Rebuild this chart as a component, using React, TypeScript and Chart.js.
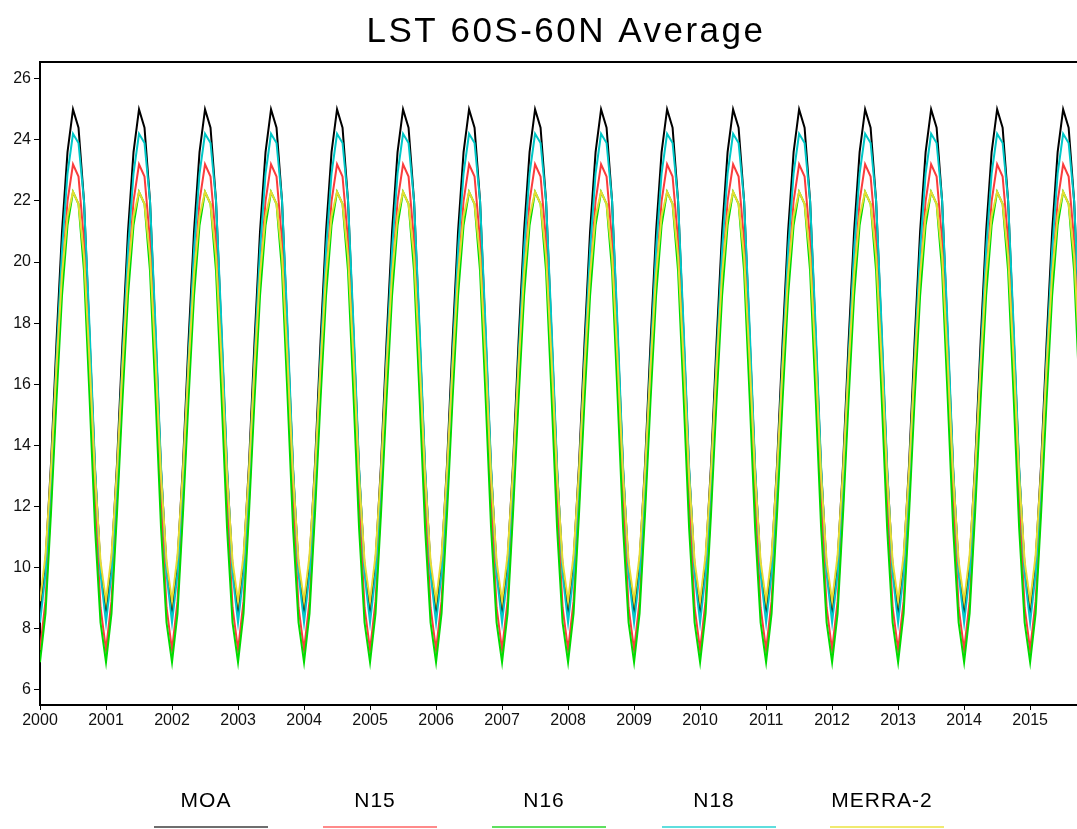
import React, { useEffect, useRef } from "react";
import { Chart, registerables } from "chart.js";

Chart.register(...registerables);

// ---------- data ----------
const chartTitle = "LST 60S-60N Average";
const seriesNames = ["MOA", "N15", "N16", "N18", "MERRA-2"];
const seriesColors = ["#000000", "rgb(250,60,60)", "rgb(0,220,0)", "rgb(0,200,200)", "rgb(230,220,50)"];
const legendColors = ["#6e6e6e", "#ff8a8a", "#5fe05f", "#5fdede", "#f0ea70"];

// monthly climatology (Jan..Dec), repeated every year
const moaCycle = [8.6, 10.2, 13.4, 17.4, 21.0, 23.6, 25.0, 24.4, 22.0, 17.6, 13.2, 10.0];
const n15Cycle = [7.3, 8.9, 12.2, 16.0, 19.5, 22.0, 23.2, 22.8, 20.7, 16.6, 12.2, 8.7];
const n16Cycle = [6.9, 8.5, 11.8, 15.5, 18.9, 21.2, 22.3, 21.9, 19.7, 15.6, 11.3, 8.2];
const n18Cycle = [8.2, 9.8, 13.0, 16.9, 20.4, 22.9, 24.2, 23.9, 22.0, 17.9, 13.3, 9.8];
const merraCycle = [8.9, 10.4, 13.2, 16.6, 19.6, 21.5, 22.3, 21.9, 20.2, 16.8, 13.0, 10.2];

const years = [2000, 2001, 2002, 2003, 2004, 2005, 2006, 2007, 2008, 2009, 2010, 2011, 2012, 2013, 2014, 2015];
const lastYearMonths = 10; // data through Oct 2015
const yTicks = [6, 8, 10, 12, 14, 16, 18, 20, 22, 24, 26];

const cycles = [moaCycle, n15Cycle, n16Cycle, n18Cycle, merraCycle];

function buildSeries(cycle: number[]) {
  const pts: { x: number; y: number }[] = [];
  years.forEach((yr, i) => {
    const n = i === years.length - 1 ? lastYearMonths : 12;
    for (let m = 0; m < n; m++) pts.push({ x: yr + m / 12, y: cycle[m] });
  });
  return pts;
}

const FONT = '"Liberation Sans", Arial, sans-serif';

const decorPlugin = {
  id: "decor",
  afterDraw(chart: any) {
    const ctx = chart.ctx as CanvasRenderingContext2D;
    const ca = chart.chartArea;
    ctx.save();
    // top frame line
    ctx.strokeStyle = "#000";
    ctx.lineWidth = 2;
    ctx.beginPath();
    ctx.moveTo(ca.left - 1, ca.top);
    ctx.lineTo(ca.right, ca.top);
    ctx.stroke();
    // title
    ctx.fillStyle = "#000";
    ctx.font = `35px ${FONT}`;
    (ctx as any).letterSpacing = "2.5px";
    ctx.textAlign = "center";
    ctx.textBaseline = "middle";
    ctx.fillText(chartTitle, 566, 32);
    // legend
    const centers = [211, 380, 549, 719, 887];
    ctx.font = `21px ${FONT}`;
    (ctx as any).letterSpacing = "1px";
    seriesNames.forEach((name, i) => {
      ctx.fillStyle = "#000";
      ctx.fillText(name, centers[i] - 5, 801);
      ctx.strokeStyle = legendColors[i];
      ctx.lineWidth = 2;
      ctx.beginPath();
      ctx.moveTo(centers[i] - 57, 827);
      ctx.lineTo(centers[i] + 57, 827);
      ctx.stroke();
    });
    ctx.restore();
  },
};

export default function App() {
  const ref = useRef<HTMLCanvasElement | null>(null);
  useEffect(() => {
    if (!ref.current) return;
    const chart = new Chart(ref.current, {
      type: "line",
      data: {
        datasets: seriesNames.map((name, i) => ({
          label: name,
          data: buildSeries(cycles[i]),
          borderColor: seriesColors[i],
          backgroundColor: seriesColors[i],
          borderWidth: 2,
          pointRadius: 0,
          tension: 0,
          fill: false,
          order: seriesNames.length - i,
        })),
      },
      options: {
        animation: false,
        responsive: false,
        parsing: true,
        layout: { padding: { top: 62, bottom: 94, left: 0, right: 0 } },
        plugins: { legend: { display: false }, title: { display: false }, tooltip: { enabled: false } },
        scales: {
          x: {
            type: "linear",
            min: 2000,
            max: 2015.71,
            afterBuildTicks: (s: any) => {
              s.ticks = years.map((v) => ({ value: v }));
            },
            afterFit: (s: any) => {
              s.height = 30;
            },
            ticks: {
              autoSkip: false,
              maxRotation: 0,
              padding: 1,
              color: "#111",
              font: { family: FONT, size: 16 },
              callback: (v: any) => String(v),
            },
            grid: { drawOnChartArea: false, tickLength: 5, color: "#000", lineWidth: 1 },
            border: { color: "#000", width: 2 },
          },
          y: {
            type: "linear",
            min: 5.5,
            max: 26.55,
            afterBuildTicks: (s: any) => {
              s.ticks = yTicks.map((v) => ({ value: v }));
            },
            afterFit: (s: any) => {
              s.width = 40;
            },
            ticks: {
              padding: 3,
              color: "#111",
              font: { family: FONT, size: 16 },
              callback: (v: any) => String(v),
            },
            grid: { drawOnChartArea: false, tickLength: 6, color: "#000", lineWidth: 1 },
            border: { color: "#000", width: 2 },
          },
        },
      },
      plugins: [decorPlugin],
    });
    return () => chart.destroy();
  }, []);
  return (
    <div style={{ position: "absolute", left: 0, top: 0, width: 1077, height: 829, background: "#fff" }}>
      <canvas ref={ref} width={1077} height={829} style={{ display: "block" }} />
    </div>
  );
}
